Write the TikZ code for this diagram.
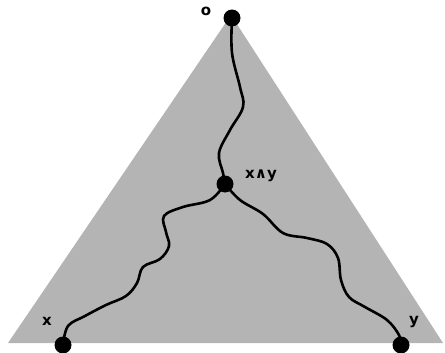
\documentclass[tikz,border=0pt]{standalone}
\usepackage{fontspec}
\setsansfont{DejaVu Sans}
\begin{document}
\begin{tikzpicture}[x=1pt,y=-1pt,
  dot/.style={circle,fill=black,inner sep=0pt,minimum size=17pt},
  wave/.style={line width=2.6pt,line cap=round,line join=round},
  lab/.style={font=\sffamily\bfseries\fontsize{15}{15}\selectfont,inner sep=0pt}]
\useasboundingbox (0,0) rectangle (445,353);
\fill[fill={rgb,255:red,180;green,180;blue,180}] (8,343) -- (231,15) -- (443,343) -- cycle;
\coordinate (top) at (232,18);
\coordinate (mid) at (225,184);
\coordinate (lft) at (63,345);
\coordinate (rgt) at (401,345);
\draw[wave] plot[smooth,tension=0.6] coordinates {(top) (232,53) (240,87) (243,107) (230,130) (219,153) (223,173) (mid)};
\draw[wave] plot[smooth,tension=0.6] coordinates {(mid) (210,200) (183,207) (164,216) (166,232) (169,246) (160,259) (143,267) (137,283) (126,296) (106,305) (85,316) (68,326) (lft)};
\draw[wave] plot[smooth,tension=0.6] coordinates {(mid) (240,200) (263,214) (283,233) (307,238) (327,244) (338,258) (341,280) (349,297) (365,307) (387,320) (399,335) (rgt)};
\node[dot] (n0) at (top) {};
\node[dot] (nm) at (mid) {};
\node[dot] (nx) at (lft) {};
\node[dot] (ny) at (rgt) {};
\node[lab] (l0) at (206,11) {o};
\node[lab] (lm) at (261,176) {x∧y};
\node[lab] (lx) at (47,321) {x};
\node[lab] (ly) at (414,322) {y};
\end{tikzpicture}
\end{document}
